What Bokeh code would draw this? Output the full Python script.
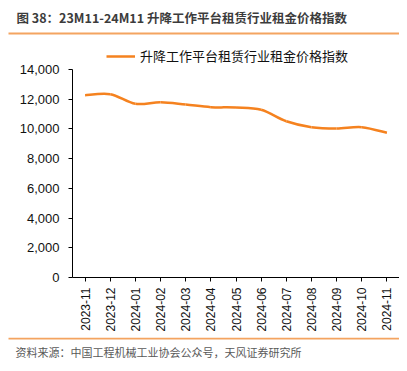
import math
from bokeh.plotting import figure
from bokeh.layouts import column
from bokeh.models import Range1d, FixedTicker, NumeralTickFormatter, Label, Legend, LegendItem
from bokeh.embed import file_html
from bokeh.resources import INLINE

months = ["2023-11", "2023-12", "2024-01", "2024-02", "2024-03", "2024-04", "2024-05",
          "2024-06", "2024-07", "2024-08", "2024-09", "2024-10", "2024-11"]
values = [12270, 12340, 11690, 11800, 11645, 11465, 11440, 11290, 10520, 10120, 10030, 10120, 9740]
y_ticks = [0, 2000, 4000, 6000, 8000, 10000, 12000, 14000]
y_max = 14000

title_text = "图 38：23M11-24M11 升降工作平台租赁行业租金价格指数"
series_name = "升降工作平台租赁行业租金价格指数"
source_text = "资料来源：中国工程机械工业协会公众号，天风证券研究所"

ORANGE = "#F5821F"
LINE_ORANGE = "#F4A460"
LATIN = "'Liberation Sans', 'Noto Sans CJK SC'"
CJK = "'Noto Sans CJK SC'"

W = 399
HEAD_H = 44
AXIS_TOP = 69       # pixel row of the 14,000 tick
AXIS_BOTTOM = 277   # pixel row of the 0 tick
FOOT_TOP = 337
MAIN_H = FOOT_TOP - HEAD_H
FOOT_H = 23


def no_align(f):
    if hasattr(f, "frame_align"):
        f.frame_align = False


def blank_fig(h):
    f = figure(width=W, height=h, output_backend="svg", toolbar_location=None,
               x_range=Range1d(0, W), y_range=Range1d(h, 0),
               x_axis_location=None, y_axis_location=None,
               min_border=0, min_border_left=0, min_border_right=0,
               min_border_top=0, min_border_bottom=0)
    f.grid.visible = False
    f.outline_line_color = None
    f.background_fill_color = "white"
    f.border_fill_color = "white"
    no_align(f)
    return f


# ---- header: title and underline ----
head = blank_fig(HEAD_H)
head.add_layout(Label(x=16, y=17, text=title_text, text_font=CJK, text_font_size="12.5px",
                      text_font_style="bold", text_color="#3c3c3c",
                      text_baseline="middle", text_align="left"))
head.quad(left=[8], right=[W], top=[32], bottom=[34], fill_color=LINE_ORANGE, line_color=None)

# ---- main chart (frame extends above the axis top to hold the legend) ----
y_end = y_max * (AXIS_BOTTOM - HEAD_H) / (AXIS_BOTTOM - AXIS_TOP)
p = figure(width=W, height=MAIN_H, output_backend="svg", toolbar_location=None,
           x_range=Range1d(-0.5, len(months) - 0.5), y_range=Range1d(0, y_end),
           min_border_left=72, min_border_right=0, min_border_top=0,
           min_border_bottom=FOOT_TOP - AXIS_BOTTOM)
p.outline_line_color = None
p.xgrid.visible = False
p.ygrid.visible = False
p.background_fill_color = "white"
p.border_fill_color = "white"
no_align(p)

# smooth line via Catmull-Rom bezier segments built from the data
xs = list(range(len(values)))
n = len(values)
x0, y0, x1, y1, cx0, cy0, cx1, cy1 = [], [], [], [], [], [], [], []
for i in range(n - 1):
    pm = i - 1 if i > 0 else i
    pp = i + 2 if i + 2 < n else i + 1
    x0.append(xs[i]); y0.append(values[i])
    x1.append(xs[i + 1]); y1.append(values[i + 1])
    cx0.append(xs[i] + (xs[i + 1] - xs[pm]) / 6)
    cy0.append(values[i] + (values[i + 1] - values[pm]) / 6)
    cx1.append(xs[i + 1] - (xs[pp] - xs[i]) / 6)
    cy1.append(values[i + 1] - (values[pp] - values[i]) / 6)
r = p.bezier(x0=x0, y0=y0, x1=x1, y1=y1, cx0=cx0, cy0=cy0, cx1=cx1, cy1=cy1,
             line_color=ORANGE, line_width=2.5)

legend = Legend(items=[LegendItem(label=series_name, renderers=[r])],
                location=(34, AXIS_BOTTOM - 57 - 8), orientation="horizontal",
                border_line_color=None, background_fill_alpha=0,
                padding=0, margin=0, spacing=0,
                glyph_width=29, glyph_height=16, label_height=16, label_standoff=5,
                label_text_font=CJK, label_text_font_size="13px", label_text_color="#111111")
p.add_layout(legend)

p.xaxis.ticker = FixedTicker(ticks=xs)
p.xaxis.major_label_overrides = {i: m for i, m in enumerate(months)}
p.xaxis.major_label_orientation = math.pi / 2
p.xaxis.minor_tick_line_color = None
p.xaxis.major_tick_in = 0
p.xaxis.major_tick_out = 4
p.xaxis.major_label_standoff = 6
p.xaxis.major_label_text_font = LATIN
p.xaxis.major_label_text_font_size = "12px"
p.xaxis.major_label_text_color = "#111111"
p.xaxis.axis_line_color = "black"
p.xaxis.major_tick_line_color = "black"

p.yaxis.ticker = FixedTicker(ticks=y_ticks)
p.yaxis.bounds = (0, y_max)
p.yaxis.formatter = NumeralTickFormatter(format="0,0")
p.yaxis.minor_tick_line_color = None
p.yaxis.major_tick_in = 0
p.yaxis.major_tick_out = 4
p.yaxis.major_label_standoff = 9
p.yaxis.major_label_text_font = LATIN
p.yaxis.major_label_text_font_size = "13px"
p.yaxis.major_label_text_color = "#111111"
p.yaxis.axis_line_color = "black"
p.yaxis.major_tick_line_color = "black"

# ---- footer: line and source ----
foot = blank_fig(FOOT_H)
foot.quad(left=[8], right=[W], top=[0], bottom=[2], fill_color=LINE_ORANGE, line_color=None)
foot.add_layout(Label(x=15, y=14, text=source_text, text_font=CJK, text_font_size="11px",
                      text_color="#595959", text_baseline="middle", text_align="left"))

layout = column(head, p, foot, spacing=0)
open("out.html", "w").write(file_html(layout, INLINE))
